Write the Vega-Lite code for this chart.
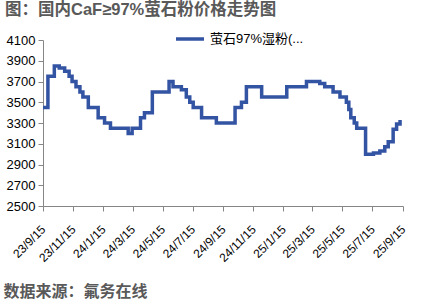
{
  "$schema": "https://vega.github.io/schema/vega-lite/v6.json",
  "width": 360,
  "height": 166,
  "autosize": {"type": "none"},
  "padding": {"left": 43, "top": 40, "right": 22, "bottom": 96},
  "background": "white",
  "title": {
    "text": "图：国内CaF≥97%萤石粉价格走势图",
    "anchor": "start",
    "frame": "group",
    "dx": -38,
    "offset": 5,
    "fontSize": 16.5,
    "fontWeight": "bold",
    "color": "#595959",
    "font": "Liberation Sans, Noto Sans CJK SC"
  },
  "config": {
    "view": {"stroke": null},
    "font": "Liberation Sans, Noto Sans CJK SC"
  },
  "data": {
    "values": [
      {"date": "2023-09-15", "price": 3450, "series": "萤石97%湿粉(..."},
      {"date": "2023-09-25", "price": 3750, "series": "萤石97%湿粉(..."},
      {"date": "2023-10-08", "price": 3850, "series": "萤石97%湿粉(..."},
      {"date": "2023-10-18", "price": 3830, "series": "萤石97%湿粉(..."},
      {"date": "2023-10-29", "price": 3800, "series": "萤石97%湿粉(..."},
      {"date": "2023-11-07", "price": 3750, "series": "萤石97%湿粉(..."},
      {"date": "2023-11-13", "price": 3700, "series": "萤石97%湿粉(..."},
      {"date": "2023-11-21", "price": 3650, "series": "萤石97%湿粉(..."},
      {"date": "2023-11-29", "price": 3600, "series": "萤石97%湿粉(..."},
      {"date": "2023-12-05", "price": 3550, "series": "萤石97%湿粉(..."},
      {"date": "2023-12-16", "price": 3450, "series": "萤石97%湿粉(..."},
      {"date": "2024-01-05", "price": 3350, "series": "萤石97%湿粉(..."},
      {"date": "2024-01-18", "price": 3300, "series": "萤石97%湿粉(..."},
      {"date": "2024-01-30", "price": 3250, "series": "萤石97%湿粉(..."},
      {"date": "2024-03-06", "price": 3200, "series": "萤石97%湿粉(..."},
      {"date": "2024-03-14", "price": 3250, "series": "萤石97%湿粉(..."},
      {"date": "2024-03-31", "price": 3350, "series": "萤石97%湿粉(..."},
      {"date": "2024-04-08", "price": 3400, "series": "萤石97%湿粉(..."},
      {"date": "2024-04-24", "price": 3600, "series": "萤石97%湿粉(..."},
      {"date": "2024-05-28", "price": 3700, "series": "萤石97%湿粉(..."},
      {"date": "2024-06-05", "price": 3650, "series": "萤石97%湿粉(..."},
      {"date": "2024-06-22", "price": 3620, "series": "萤石97%湿粉(..."},
      {"date": "2024-07-02", "price": 3550, "series": "萤石97%湿粉(..."},
      {"date": "2024-07-09", "price": 3500, "series": "萤石97%湿粉(..."},
      {"date": "2024-07-16", "price": 3450, "series": "萤石97%湿粉(..."},
      {"date": "2024-08-02", "price": 3350, "series": "萤石97%湿粉(..."},
      {"date": "2024-09-01", "price": 3300, "series": "萤石97%湿粉(..."},
      {"date": "2024-10-09", "price": 3450, "series": "萤石97%湿粉(..."},
      {"date": "2024-10-22", "price": 3500, "series": "萤石97%湿粉(..."},
      {"date": "2024-11-01", "price": 3650, "series": "萤石97%湿粉(..."},
      {"date": "2024-12-02", "price": 3550, "series": "萤石97%湿粉(..."},
      {"date": "2025-01-22", "price": 3650, "series": "萤石97%湿粉(..."},
      {"date": "2025-03-03", "price": 3700, "series": "萤石97%湿粉(..."},
      {"date": "2025-03-30", "price": 3680, "series": "萤石97%湿粉(..."},
      {"date": "2025-04-09", "price": 3650, "series": "萤石97%湿粉(..."},
      {"date": "2025-04-26", "price": 3600, "series": "萤石97%湿粉(..."},
      {"date": "2025-05-10", "price": 3550, "series": "萤石97%湿粉(..."},
      {"date": "2025-05-23", "price": 3500, "series": "萤石97%湿粉(..."},
      {"date": "2025-05-28", "price": 3430, "series": "萤石97%湿粉(..."},
      {"date": "2025-06-01", "price": 3350, "series": "萤石97%湿粉(..."},
      {"date": "2025-06-08", "price": 3300, "series": "萤石97%湿粉(..."},
      {"date": "2025-06-13", "price": 3250, "series": "萤石97%湿粉(..."},
      {"date": "2025-07-01", "price": 3000, "series": "萤石97%湿粉(..."},
      {"date": "2025-07-17", "price": 3010, "series": "萤石97%湿粉(..."},
      {"date": "2025-07-30", "price": 3030, "series": "萤石97%湿粉(..."},
      {"date": "2025-08-09", "price": 3070, "series": "萤石97%湿粉(..."},
      {"date": "2025-08-16", "price": 3120, "series": "萤石97%湿粉(..."},
      {"date": "2025-08-26", "price": 3240, "series": "萤石97%湿粉(..."},
      {"date": "2025-09-02", "price": 3290, "series": "萤石97%湿粉(..."},
      {"date": "2025-09-09", "price": 3330, "series": "萤石97%湿粉(..."}
    ]
  },
  "mark": {"type": "line", "interpolate": "step-after", "strokeWidth": 3.5, "strokeJoin": "miter", "strokeCap": "butt"},
  "encoding": {
    "x": {
      "field": "date",
      "type": "temporal",
      "scale": {"domain": ["2023-09-15T00:00:00", "2025-09-15T00:00:00"], "nice": false},
      "axis": {
        "values": ["2023-09-15T00:00:00", "2023-11-15T00:00:00", "2024-01-15T00:00:00", "2024-03-15T00:00:00", "2024-05-15T00:00:00", "2024-07-15T00:00:00", "2024-09-15T00:00:00", "2024-11-15T00:00:00", "2025-01-15T00:00:00", "2025-03-15T00:00:00", "2025-05-15T00:00:00", "2025-07-15T00:00:00", "2025-09-15T00:00:00"],
        "format": "%y/%-m/%d",
        "labelAngle": -45,
        "labelAlign": "right",
        "labelBaseline": "middle",
        "labelFontSize": 12,
        "labelColor": "#000000",
        "labelPadding": 16,
        "labelFont": "Liberation Sans",
        "grid": false,
        "domainColor": "#868686",
        "tickColor": "#868686",
        "tickSize": 5,
        "labelOverlap": false,
        "labelBound": false,
        "labelFlush": false,
        "title": "数据来源：氟务在线",
        "titleFontSize": 16,
        "titleFontWeight": "bold",
        "titleColor": "#595959",
        "titleFont": "Noto Sans CJK SC",
        "titleAlign": "left",
        "titleBaseline": "middle",
        "titleX": -40,
        "titleY": 85
      }
    },
    "y": {
      "field": "price",
      "type": "quantitative",
      "scale": {"domain": [2500, 4100], "nice": false, "zero": false},
      "axis": {
        "values": [2500, 2700, 2900, 3100, 3300, 3500, 3700, 3900, 4100],
        "format": "d",
        "title": null,
        "grid": false,
        "labelFontSize": 13,
        "labelColor": "#000000",
        "labelFont": "Liberation Sans",
        "domainColor": "#868686",
        "tickColor": "#868686",
        "tickSize": 5,
        "labelPadding": 3
      }
    },
    "color": {
      "field": "series",
      "type": "nominal",
      "scale": {"range": ["#3353A3"]},
      "legend": {
        "title": null,
        "orient": "none",
        "legendX": 131,
        "legendY": -17,
        "symbolType": "stroke",
        "symbolSize": 784,
        "symbolStrokeWidth": 3.5,
        "labelFontSize": 13,
        "labelColor": "#000000",
        "labelFont": "Liberation Sans, Noto Sans CJK SC",
        "padding": 0,
        "labelLimit": 200
      }
    }
  }
}
